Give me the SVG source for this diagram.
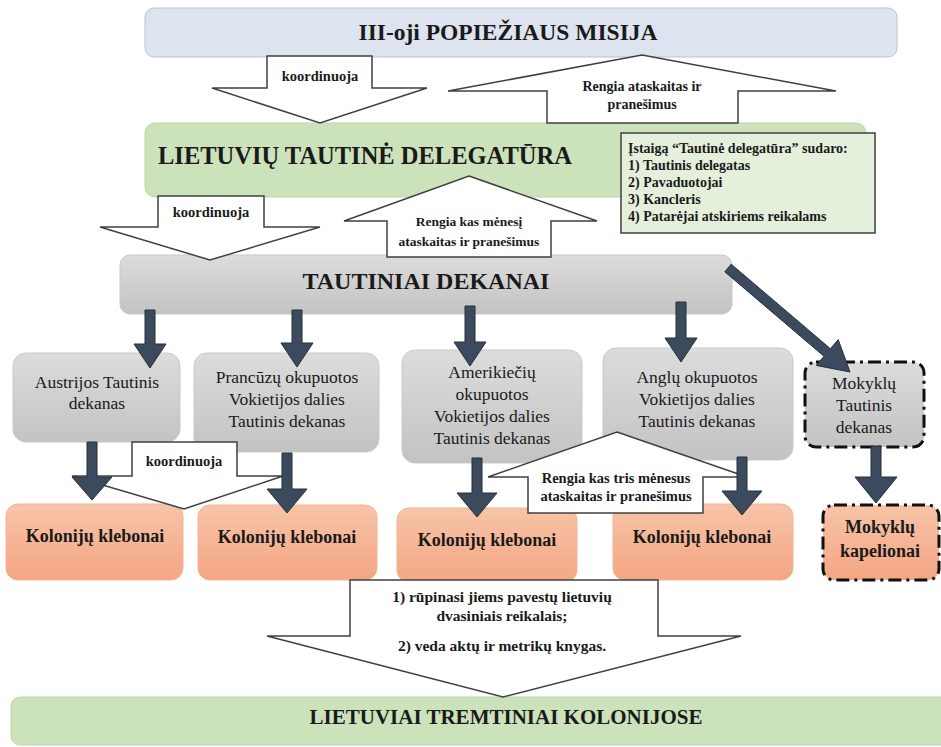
<svg xmlns="http://www.w3.org/2000/svg" width="941" height="747" viewBox="0 0 941 747">
<defs>
<linearGradient id="gGray" x1="0" y1="0" x2="0" y2="1"><stop offset="0" stop-color="#dcdcdc"/><stop offset="1" stop-color="#c3c3c3"/></linearGradient>
<linearGradient id="gOrange" x1="0" y1="0" x2="0" y2="1"><stop offset="0" stop-color="#f7c4a8"/><stop offset="1" stop-color="#f4a683"/></linearGradient>
<style>
text{font-family:'Liberation Serif','Times New Roman',serif;fill:#1a1a1a;text-anchor:middle}
.b{font-weight:bold}
.l{text-anchor:start}
.blue{fill:#dde4f0;stroke:#b9c3d3;stroke-width:1}
.green{fill:#cbe2ba;stroke:#bcd6a9;stroke-width:1}
.info{fill:#e5f0dc;stroke:#404040;stroke-width:1.5}
.gray{fill:url(#gGray);stroke:#c9c9c9;stroke-width:1}
.orange{fill:url(#gOrange);stroke:#f2b396;stroke-width:1}
.dash{stroke:#111;stroke-width:3;stroke-dasharray:13 5 3 5}
.wa{fill:#fff;stroke:#404040;stroke-width:1.5;stroke-linejoin:miter}
.da{fill:#3c4a5d;stroke:#252f3b;stroke-width:1}
.dk{font-size:17.5px}
.kl{font-size:18px;font-weight:bold}
</style>
</defs>

<g id="misija">
<rect class="blue" x="145" y="8" width="752" height="49" rx="9"/>
<text class="b" x="508" y="40" font-size="23.5">III-oji POPIEŽIAUS MISIJA</text>
</g>

<g id="delegatura">
<rect class="green" x="145" y="123" width="721" height="74" rx="10"/>
<text class="b l" x="158" y="164" font-size="24.5">LIETUVIŲ TAUTINĖ DELEGATŪRA</text>
</g>

<g id="dekanai">
<rect class="gray" x="120" y="255" width="612" height="59" rx="10"/>
<text class="b" x="426" y="289" font-size="24">TAUTINIAI DEKANAI</text>
</g>

<g id="austrija">
<rect class="gray" x="13" y="353" width="167" height="89" rx="13"/>
<text class="dk" x="97" y="388">Austrijos Tautinis</text>
<text class="dk" x="97" y="409">dekanas</text>
</g>
<g id="prancuzu">
<rect class="gray" x="194" y="353" width="185" height="99" rx="13"/>
<text class="dk" x="287" y="383">Prancūzų okupuotos</text>
<text class="dk" x="287" y="405">Vokietijos dalies</text>
<text class="dk" x="287" y="427">Tautinis dekanas</text>
</g>
<g id="amerikieciu">
<rect class="gray" x="402" y="350" width="180" height="113" rx="13"/>
<text class="dk" x="492" y="378">Amerikiečių</text>
<text class="dk" x="492" y="400">okupuotos</text>
<text class="dk" x="492" y="422">Vokietijos dalies</text>
<text class="dk" x="492" y="444">Tautinis dekanas</text>
</g>
<g id="anglu">
<rect class="gray" x="603" y="348" width="190" height="112" rx="13"/>
<text class="dk" x="697" y="383">Anglų okupuotos</text>
<text class="dk" x="697" y="405">Vokietijos dalies</text>
<text class="dk" x="697" y="427">Tautinis dekanas</text>
</g>
<g id="mokyklu-dekanas">
<rect class="gray dash" x="805" y="362" width="119" height="85" rx="11"/>
<text class="dk" x="864" y="389">Mokyklų</text>
<text class="dk" x="864" y="411">Tautinis</text>
<text class="dk" x="864" y="433">dekanas</text>
</g>

<g id="klebonai1">
<rect class="orange" x="6" y="504" width="177" height="76" rx="12"/>
<text class="kl" x="95" y="542">Kolonijų klebonai</text>
</g>
<g id="klebonai2">
<rect class="orange" x="198" y="505" width="179" height="75" rx="12"/>
<text class="kl" x="287" y="543">Kolonijų klebonai</text>
</g>
<g id="klebonai3">
<rect class="orange" x="397" y="508" width="180" height="74" rx="12"/>
<text class="kl" x="487" y="546">Kolonijų klebonai</text>
</g>
<g id="klebonai4">
<rect class="orange" x="613" y="504" width="180" height="76" rx="12"/>
<text class="kl" x="702" y="543">Kolonijų klebonai</text>
</g>
<g id="kapelionai">
<rect class="orange dash" x="823" y="505" width="116" height="75" rx="11"/>
<text class="kl" x="880" y="533">Mokyklų</text>
<text class="kl" x="880" y="557">kapelionai</text>
</g>

<g id="tremtiniai">
<rect class="green" x="11" y="697" width="940" height="48" rx="9"/>
<text class="b" x="506" y="724" font-size="21">LIETUVIAI TREMTINIAI KOLONIJOSE</text>
</g>

<g id="info">
<rect class="info" x="621" y="133" width="254" height="100"/>
<text class="b l" x="628" y="153" font-size="14">Įstaigą “Tautinė delegatūra” sudaro:</text>
<text class="b l" x="628" y="170" font-size="14">1) Tautinis delegatas</text>
<text class="b l" x="628" y="187" font-size="14">2) Pavaduotojai</text>
<text class="b l" x="628" y="204" font-size="14">3) Kancleris</text>
<text class="b l" x="628" y="221" font-size="14">4) Patarėjai atskiriems reikalams</text>
</g>

<g id="connectors">
<polygon class="wa" points="267,56 372,56 372,88 427,88 320,123 212,88 267,88"/>
<text class="b" x="320" y="81" font-size="14.5">koordinuoja</text>

<polygon class="wa" points="642,55 836,91 738,91 738,123 547,123 547,91 448,91"/>
<text class="b" x="642" y="91" font-size="14">Rengia ataskaitas ir</text>
<text class="b" x="642" y="109" font-size="14">pranešimus</text>

<polygon class="wa" points="158,196 264,196 264,227 320,227 210,260 100,227 158,227"/>
<text class="b" x="211" y="217" font-size="14.5">koordinuoja</text>

<polygon class="wa" points="469,176 597,221 551,221 551,257 387,257 387,221 344,221"/>
<text class="b" x="469" y="226" font-size="13.5">Rengia kas mėnesį</text>
<text class="b" x="469" y="246" font-size="13.5">ataskaitas ir pranešimus</text>

<polygon class="wa" points="132,442 237,442 237,476 283,476 184,509 72,476 132,476"/>
<text class="b" x="184" y="466" font-size="14.5">koordinuoja</text>

<polygon class="wa" points="617,432 747,477 703,477 703,513 528,513 528,477 488,477"/>
<text class="b" x="616" y="483" font-size="14.5">Rengia kas tris mėnesus</text>
<text class="b" x="616" y="501" font-size="14.5">ataskaitas ir pranešimus</text>

<polygon class="wa" points="350,580 658,580 658,636 741,636 503,697 267,636 350,636"/>
<text class="b" x="502" y="602" font-size="15.5">1) rūpinasi jiems pavestų lietuvių</text>
<text class="b" x="502" y="621" font-size="15.5">dvasiniais reikalais;</text>
<text class="b" x="502" y="651" font-size="15.5">2) veda aktų ir metrikų knygas.</text>

<polygon class="da" points="145,310 155,310 155,344 166,344 150,368 134,344 145,344"/>
<polygon class="da" points="292,310 302,310 302,343 313,343 297,367 281,343 292,343"/>
<polygon class="da" points="465,306 475,306 475,342 486,342 470,366 454,342 465,342"/>
<polygon class="da" points="676,302 686,302 686,338 697,338 681,362 665,338 676,338"/>
<polygon class="da" points="731.2,264.2 830.4,348.7 838.2,339.6 850,372 816.2,365.4 824,356.3 724.8,271.8"/>

<polygon class="da" points="87,442 97,442 97,477 112,477 92,500 72,477 87,477"/>
<polygon class="da" points="282,453 292,453 292,489 307,489 287,513 267,489 282,489"/>
<polygon class="da" points="472,458 482,458 482,493 497,493 477,517 457,493 472,493"/>
<polygon class="da" points="737,457 747,457 747,491 762,491 742,515 722,491 737,491"/>
<polygon class="da" points="871,446 881,446 881,477 897,477 876,503 855,477 871,477"/>
</g>
</svg>
